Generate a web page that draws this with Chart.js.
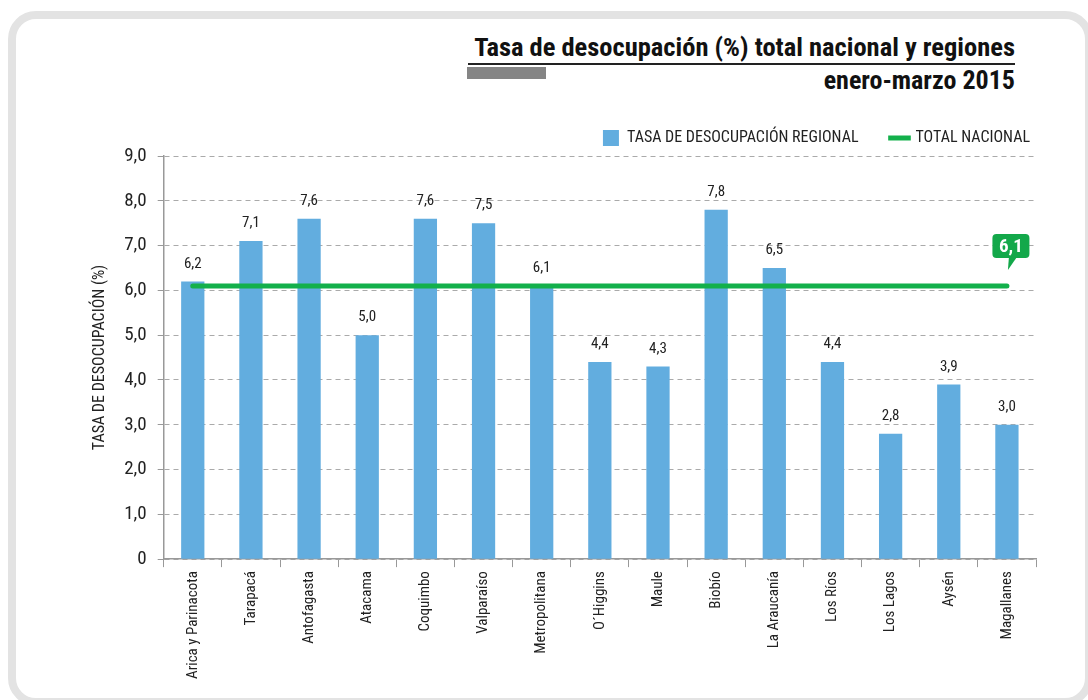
<!DOCTYPE html>
<html>
<head>
<meta charset="utf-8">
<script src="https://cdn.jsdelivr.net/npm/chart.js@4/dist/chart.umd.min.js"></script>
<style>
  html, body { margin: 0; padding: 0; background: #fff; overflow: hidden; }
  #wrap { position: relative; width: 1088px; height: 700px; }
  #frame {
    position: absolute; left: 8px; top: 11px; width: 1069px; height: 679px;
    border: 8px solid #e3e3e3; border-radius: 28px;
  }
  #title {
    position: absolute; right: 73px; top: 31px; text-align: right;
    font-family: 'Liberation Sans Narrow', 'Roboto Condensed', 'DejaVu Sans Condensed', Roboto, sans-serif;
    font-weight: bold; color: #111;
  }
  #title .l1 { font-size: 26.5px; line-height: 32px; }
  #title .l2 { font-size: 26px; line-height: 30px; margin-top: 2px; }
  #rule { position: absolute; left: 468px; top: 63px; width: 547px; height: 2px; background: #222; }
  #graybar { position: absolute; left: 467px; top: 67px; width: 79px; height: 12px; background: #858585; }
  canvas { position: absolute; left: 0; top: 0; }
</style>
</head>
<body>
<div id="wrap">
  <div id="frame"></div>
  <div id="title">
    <div class="l1">Tasa de desocupación (%) total nacional y regiones</div>
    <div class="l2">enero-marzo 2015</div>
  </div>
  <div id="rule"></div>
  <div id="graybar"></div>
  <canvas id="chart" width="1088" height="700"></canvas>
</div>
<script>
const regiones = ['Arica y Parinacota', 'Tarapacá', 'Antofagasta', 'Atacama', 'Coquimbo', 'Valparaíso',
  'Metropolitana', 'O´Higgins', 'Maule', 'Biobío', 'La Araucanía', 'Los Ríos', 'Los Lagos', 'Aysén', 'Magallanes'];
const tasaRegional = [6.2, 7.1, 7.6, 5.0, 7.6, 7.5, 6.1, 4.4, 4.3, 7.8, 6.5, 4.4, 2.8, 3.9, 3.0];
const totalNacional = 6.1;
const yTicks = [0, 1, 2, 3, 4, 5, 6, 7, 8, 9];

const FONT = "'Liberation Sans Narrow', 'Roboto Condensed', 'DejaVu Sans Condensed', Roboto, sans-serif";
const fmt = v => v === 0 ? '0' : v.toFixed(1).replace('.', ',');

// numbers above each bar
const barLabels = {
  id: 'barLabels',
  afterDatasetsDraw(chart) {
    const ctx = chart.ctx;
    const meta = chart.getDatasetMeta(0);
    ctx.save();
    ctx.font = '15px ' + FONT;
    ctx.fillStyle = '#222';
    ctx.textAlign = 'center';
    ctx.textBaseline = 'bottom';
    meta.data.forEach((bar, i) => {
      ctx.fillText(fmt(tasaRegional[i]), bar.x, bar.y - 10);
    });
    ctx.restore();
  }
};

// green callout with the national value
const badge = {
  id: 'badge',
  afterDatasetsDraw(chart) {
    const ctx = chart.ctx;
    const meta = chart.getDatasetMeta(1);
    const p = meta.data[meta.data.length - 1];
    const cx = p.x + 4, tipY = p.y - 16;
    const w = 37, h = 24, top = tipY - 36, r = 4;
    const left = cx - w / 2;
    ctx.save();
    ctx.fillStyle = '#13a84a';
    ctx.beginPath();
    ctx.roundRect(left, top, w, h, r);
    ctx.fill();
    ctx.beginPath();
    ctx.moveTo(p.x + 2, top + h - 1);
    ctx.lineTo(p.x + 10, top + h - 1);
    ctx.lineTo(p.x + 1, tipY);
    ctx.closePath();
    ctx.fill();
    ctx.font = 'bold 19px ' + FONT;
    ctx.fillStyle = '#fff';
    ctx.textAlign = 'center';
    ctx.textBaseline = 'middle';
    ctx.fillText(fmt(totalNacional), cx, top + h / 2 + 1);
    ctx.restore();
  }
};

// the legend sits closer to the right edge than Chart.js puts it
const legendShift = {
  id: 'legendShift',
  afterLayout(chart) {
    chart.legend.left += 27;
    chart.legend.right += 27;
  }
};

new Chart(document.getElementById('chart'), {
  type: 'bar',
  data: {
    labels: regiones,
    datasets: [{
      label: 'TASA DE DESOCUPACIÓN REGIONAL',
      data: tasaRegional,
      backgroundColor: '#62addf',
      barPercentage: 0.4,
      categoryPercentage: 1,
      pointStyle: 'rect',
      order: 2
    }, {
      type: 'line',
      label: 'TOTAL NACIONAL',
      data: regiones.map(() => totalNacional),
      borderColor: '#13b04b',
      backgroundColor: '#13b04b',
      borderWidth: 5,
      borderCapStyle: 'round',
      pointRadius: 0,
      pointStyle: 'line',
      order: 1
    }]
  },
  options: {
    responsive: false,
    animation: false,
    layout: { padding: { left: 86, right: 52, top: 97, bottom: 17 } },
    plugins: {
      legend: {
        position: 'top',
        align: 'end',
        labels: {
          usePointStyle: true,
          boxHeight: 17,
          padding: 33,
          color: '#222',
          font: { family: FONT, size: 16 },
          sort: (a, b) => a.datasetIndex - b.datasetIndex
        }
      },
      tooltip: { enabled: false }
    },
    scales: {
      x: {
        grid: { offset: true, drawOnChartArea: false, drawTicks: true, tickLength: 8, tickColor: '#999' },
        border: { display: true, color: '#999', width: 1.5 },
        ticks: {
          maxRotation: 90, minRotation: 90, autoSkip: false, padding: 4,
          color: '#222', font: { family: FONT, size: 15 }
        }
      },
      y: {
        min: 0, max: 9,
        afterBuildTicks: axis => { axis.ticks = yTicks.map(v => ({ value: v })); },
        grid: { color: '#aaa', lineWidth: 1, tickLength: 6, tickColor: '#999', tickBorderDash: [] },
        border: { display: true, color: '#999', width: 1.5, dash: [5, 4] },
        ticks: {
          callback: v => fmt(v), padding: 11,
          color: '#222', font: { family: FONT, size: 19 }
        },
        title: {
          display: true, text: 'TASA DE DESOCUPACIÓN (%)',
          color: '#222', font: { family: FONT, size: 16 }, padding: { bottom: 4 }
        }
      }
    }
  },
  plugins: [barLabels, badge, legendShift]
});
</script>
</body>
</html>
